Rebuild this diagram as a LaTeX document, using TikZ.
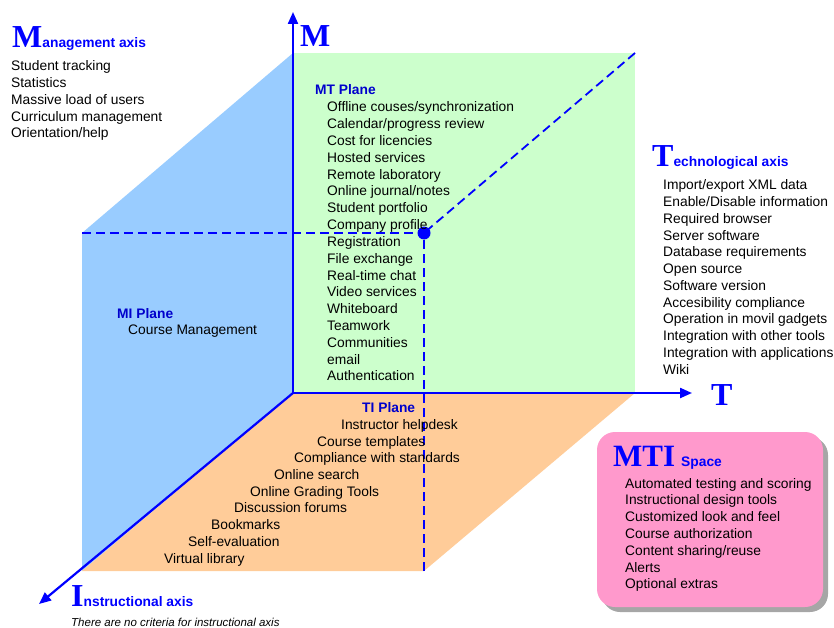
\documentclass[tikz,border=0pt]{standalone}
\usepackage{fontspec}
\setmainfont{Liberation Sans}
\newfontfamily\bigserif{Liberation Serif}
\usetikzlibrary{arrows.meta,shadows}
\definecolor{mtgreen}{HTML}{CCFFCC}
\definecolor{miblue}{HTML}{99CCFF}
\definecolor{tiorange}{HTML}{FFCC99}
\definecolor{mtipink}{HTML}{FF99CC}
\definecolor{axisblue}{HTML}{0000FF}
\definecolor{planeblue}{HTML}{0000CC}
\newcommand{\txtsize}{\fontsize{13.8}{16}\selectfont}
\newcommand{\bigsize}{\fontsize{32}{32}\selectfont}
\tikzset{
  txt/.style={anchor=base west, inner sep=0pt, font=\txtsize, text=black},
  planelabel/.style={anchor=base west, inner sep=0pt, font=\txtsize\bfseries, text=planeblue},
  header/.style={anchor=base west, inner sep=0pt, text=axisblue},
  axisline/.style={draw=axisblue, line width=2.2pt, -{Triangle[length=12pt,width=10pt]}},
  dashline/.style={draw=axisblue, line width=1.8pt, dash pattern=on 9pt off 5pt},
}
\begin{document}
\begin{tikzpicture}[x=1pt,y=-1pt]
\useasboundingbox (0,0) rectangle (834,628);
% cube corners
\coordinate (O) at (293,393);
\coordinate (Mt) at (293,53);
\coordinate (Tt) at (635,393);
\coordinate (It) at (82,571);
\coordinate (MI) at (82,233);
\coordinate (TI) at (424,571);
\coordinate (MT) at (635,53);
\coordinate (Mend) at (293,12);
\coordinate (Tend) at (692,393);
\coordinate (Iend) at (39,604);
% planes
\fill[miblue] (O) -- (Mt) -- (MI) -- (It) -- cycle;
\fill[tiorange] (O) -- (Tt) -- (TI) -- (It) -- cycle;
\fill[mtgreen] (O) rectangle (MT);
% far corner
\node[circle, fill=axisblue, minimum size=13pt, inner sep=0pt] (dot) at (424,233) {};
\draw[dashline] (MI) -- (dot.center);
\draw[dashline] (MT) -- (dot.center);
\draw[dashline] (TI) -- (dot.center);
% axes
\draw[axisline] (O) -- (Mend);
\draw[axisline] (O) -- (Tend);
\draw[axisline] (O) -- (Iend);
\node[header, font=\bigserif\bfseries\bigsize] (mlab) at (300,47) {M};
\node[header, font=\bigserif\bfseries\bigsize] (tlab) at (711,405) {T};
% Management axis
\node[header] (mhead) at (12,48) {{\bigserif\bfseries\bigsize M}{\bfseries\txtsize anagement axis}};
\foreach \t [count=\i] in {Student tracking, Statistics, Massive load of users, Curriculum management, Orientation/help}
  \node[txt] (m\i) at ({11},{71+16.7*(\i-1)}) {\t};
% MT plane
\node[planelabel] (mtlab) at (315,95) {MT Plane};
\foreach \t [count=\i] in {Offline couses/synchronization, Calendar/progress review, Cost for licencies, Hosted services, Remote laboratory, Online journal/notes, Student portfolio, Company profile, Registration, File exchange, Real-time chat, Video services, Whiteboard, Teamwork, Communities, email, Authentication}
  \node[txt] (mt\i) at ({327},{112+16.8*(\i-1)}) {\t};
% Technological axis
\node[header] (thead) at (652,167) {{\bigserif\bfseries\bigsize T}{\bfseries\txtsize echnological axis}};
\foreach \t [count=\i] in {Import/export XML data, Enable/Disable information, Required browser, Server software, Database requirements, Open source, Software version, Accesibility compliance, Operation in movil gadgets, Integration with other tools, Integration with applications, Wiki}
  \node[txt] (t\i) at ({663},{190+16.73*(\i-1)}) {\t};
% MI plane
\node[planelabel] (milab) at (117,318) {MI Plane};
\node[txt] (mi1) at (128,334) {Course Management};
% TI plane
\node[planelabel] (tilab) at (362,412) {TI Plane};
\foreach \x/\y/\t [count=\i] in {341/429/Instructor helpdesk, 317/446/Course templates, 294/462/Compliance with standards, 274/479/Online search, 250/496/Online Grading Tools, 234/512/Discussion forums, 211/529/Bookmarks, 188/546/Self-evaluation, 164/563/Virtual library}
  \node[txt] (ti\i) at (\x,\y) {\t};
% Instructional axis
\node[header] (ihead) at (71,606) {{\bigserif\bfseries\bigsize I}{\bfseries\txtsize nstructional axis}};
\node[txt, font=\fontsize{11.5}{13}\selectfont\itshape] (inote) at (71,626) {There are no criteria for instructional axis};
% MTI space
\node[fill=mtipink, rounded corners=18pt, minimum width=226pt, minimum height=175pt, inner sep=0pt,
      drop shadow={shadow xshift=5pt, shadow yshift=-5pt, fill=black!35, opacity=1}] (mti) at (710,519.5) {};
\node[header] (mtihead) at (613,466) {{\bigserif\bfseries\fontsize{31}{31}\selectfont MTI}\hspace{6pt}{\bfseries\txtsize Space}};
\foreach \t [count=\i] in {Automated testing and scoring, Instructional design tools, Customized look and feel, Course authorization, Content sharing/reuse, Alerts, Optional extras}
  \node[txt] (s\i) at ({625},{488+16.8*(\i-1)}) {\t};
\end{tikzpicture}
\end{document}
